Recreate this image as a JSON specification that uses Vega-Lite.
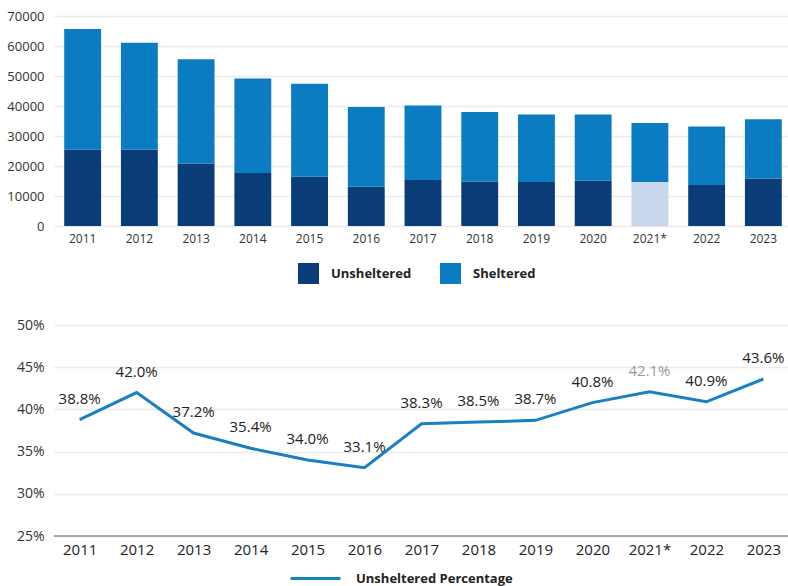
{
  "$schema": "https://vega.github.io/schema/vega-lite/v6.json",
  "background": "white",
  "padding": {"left": 6, "top": 10, "right": 0, "bottom": 0},
  "spacing": 34,
  "resolve": {"scale": {"color": "independent"}, "legend": {"color": "independent"}},
  "config": {
    "font": "Open Sans",
    "view": {"stroke": null},
    "axis": {"labelColor": "#333", "titleColor": "#333", "ticks": false, "domain": false, "gridColor": "#ebebeb", "gridWidth": 1.5},
    "legend": {"labelColor": "#222", "labelFontWeight": "bold"}
  },
  "datasets": {
    "bars": [
      {"year": "2011", "type": "Unsheltered", "value": 25400},
      {"year": "2011", "type": "Sheltered", "value": 40300},
      {"year": "2012", "type": "Unsheltered", "value": 25400},
      {"year": "2012", "type": "Sheltered", "value": 35700},
      {"year": "2013", "type": "Unsheltered", "value": 20800},
      {"year": "2013", "type": "Sheltered", "value": 34800},
      {"year": "2014", "type": "Unsheltered", "value": 17700},
      {"year": "2014", "type": "Sheltered", "value": 31500},
      {"year": "2015", "type": "Unsheltered", "value": 16400},
      {"year": "2015", "type": "Sheltered", "value": 31000},
      {"year": "2016", "type": "Unsheltered", "value": 13100},
      {"year": "2016", "type": "Sheltered", "value": 26600},
      {"year": "2017", "type": "Unsheltered", "value": 15300},
      {"year": "2017", "type": "Sheltered", "value": 24900},
      {"year": "2018", "type": "Unsheltered", "value": 14800},
      {"year": "2018", "type": "Sheltered", "value": 23200},
      {"year": "2019", "type": "Unsheltered", "value": 14700},
      {"year": "2019", "type": "Sheltered", "value": 22500},
      {"year": "2020", "type": "Unsheltered", "value": 15200},
      {"year": "2020", "type": "Sheltered", "value": 22000},
      {"year": "2021*", "type": "Unsheltered", "value": 14700},
      {"year": "2021*", "type": "Sheltered", "value": 19600},
      {"year": "2022", "type": "Unsheltered", "value": 13700},
      {"year": "2022", "type": "Sheltered", "value": 19500},
      {"year": "2023", "type": "Unsheltered", "value": 15800},
      {"year": "2023", "type": "Sheltered", "value": 19800}
    ],
    "pct": [
      {"year": "2011", "series": "Unsheltered Percentage", "pct": 38.8, "label": "38.8%"},
      {"year": "2012", "series": "Unsheltered Percentage", "pct": 42.0, "label": "42.0%"},
      {"year": "2013", "series": "Unsheltered Percentage", "pct": 37.2, "label": "37.2%"},
      {"year": "2014", "series": "Unsheltered Percentage", "pct": 35.4, "label": "35.4%"},
      {"year": "2015", "series": "Unsheltered Percentage", "pct": 34.0, "label": "34.0%"},
      {"year": "2016", "series": "Unsheltered Percentage", "pct": 33.1, "label": "33.1%"},
      {"year": "2017", "series": "Unsheltered Percentage", "pct": 38.3, "label": "38.3%"},
      {"year": "2018", "series": "Unsheltered Percentage", "pct": 38.5, "label": "38.5%"},
      {"year": "2019", "series": "Unsheltered Percentage", "pct": 38.7, "label": "38.7%"},
      {"year": "2020", "series": "Unsheltered Percentage", "pct": 40.8, "label": "40.8%"},
      {"year": "2021*", "series": "Unsheltered Percentage", "pct": 42.1, "label": "42.1%"},
      {"year": "2022", "series": "Unsheltered Percentage", "pct": 40.9, "label": "40.9%"},
      {"year": "2023", "series": "Unsheltered Percentage", "pct": 43.6, "label": "43.6%"}
    ]
  },
  "vconcat": [
    {
      "width": 738,
      "height": 210,
      "data": {"name": "bars"},
      "mark": {"type": "bar"},
      "encoding": {
        "x": {"field": "year", "type": "ordinal", "sort": null,
              "scale": {"paddingInner": 0.35, "paddingOuter": 0.18},
              "axis": {"title": null, "labelAngle": 0, "labelFontSize": 12, "labelPadding": 7}},
        "y": {"field": "value", "type": "quantitative", "stack": "zero",
              "scale": {"domain": [0, 70000]},
              "axis": {"title": null, "tickCount": 7, "format": "d", "labelFontSize": 13, "labelPadding": 10}},
        "order": {"field": "type", "sort": "descending"},
        "color": {
          "condition": {"test": "datum.year === '2021*' && datum.type === 'Unsheltered'", "value": "#c9d6ec"},
          "field": "type", "type": "nominal",
          "scale": {"domain": ["Unsheltered", "Sheltered"], "range": ["#0a3d78", "#0b7cc1"]},
          "legend": {"title": null, "orient": "none", "legendX": 244, "legendY": 247, "direction": "horizontal", "symbolType": "square", "symbolSize": 441, "symbolStrokeWidth": 0, "symbolOpacity": 1, "labelFontSize": 13, "columnPadding": 28, "labelOffset": 12}
        }
      }
    },
    {
      "width": 735,
      "height": 211,
      "data": {"name": "pct"},
      "encoding": {
        "x": {"field": "year", "type": "ordinal", "sort": null,
              "scale": {"type": "point", "padding": 0.45},
              "axis": {"title": null, "labelAngle": 0, "labelFontSize": 15, "labelPadding": 6, "labelColor": "#222"}},
        "y": {"field": "pct", "type": "quantitative",
              "scale": {"domain": [25, 50], "zero": false},
              "axis": {"title": null, "values": [25, 30, 35, 40, 45, 50], "labelExpr": "datum.value + '%'", "labelFontSize": 14, "labelPadding": 10}}
      },
      "layer": [
        {
          "mark": {"type": "rule", "color": "#aaaaaa", "strokeWidth": 2},
          "encoding": {"y": {"datum": 25}, "x": {"value": 0}, "x2": {"value": 735}}
        },
        {
          "mark": {"type": "line", "strokeWidth": 3},
          "encoding": {
            "color": {"field": "series", "type": "nominal",
                      "scale": {"range": ["#1a80c0"]},
                      "legend": {"title": null, "orient": "none", "legendX": 235, "legendY": 227, "symbolType": "stroke", "symbolSize": 2500, "symbolStrokeWidth": 3, "labelFontSize": 13, "labelOffset": 14}}
          }
        },
        {
          "mark": {"type": "text", "dy": -21, "fontSize": 15},
          "encoding": {
            "text": {"field": "label"},
            "color": {"condition": {"test": "datum.year === '2021*'", "value": "#999999"}, "value": "#222222"}
          }
        }
      ]
    }
  ]
}
